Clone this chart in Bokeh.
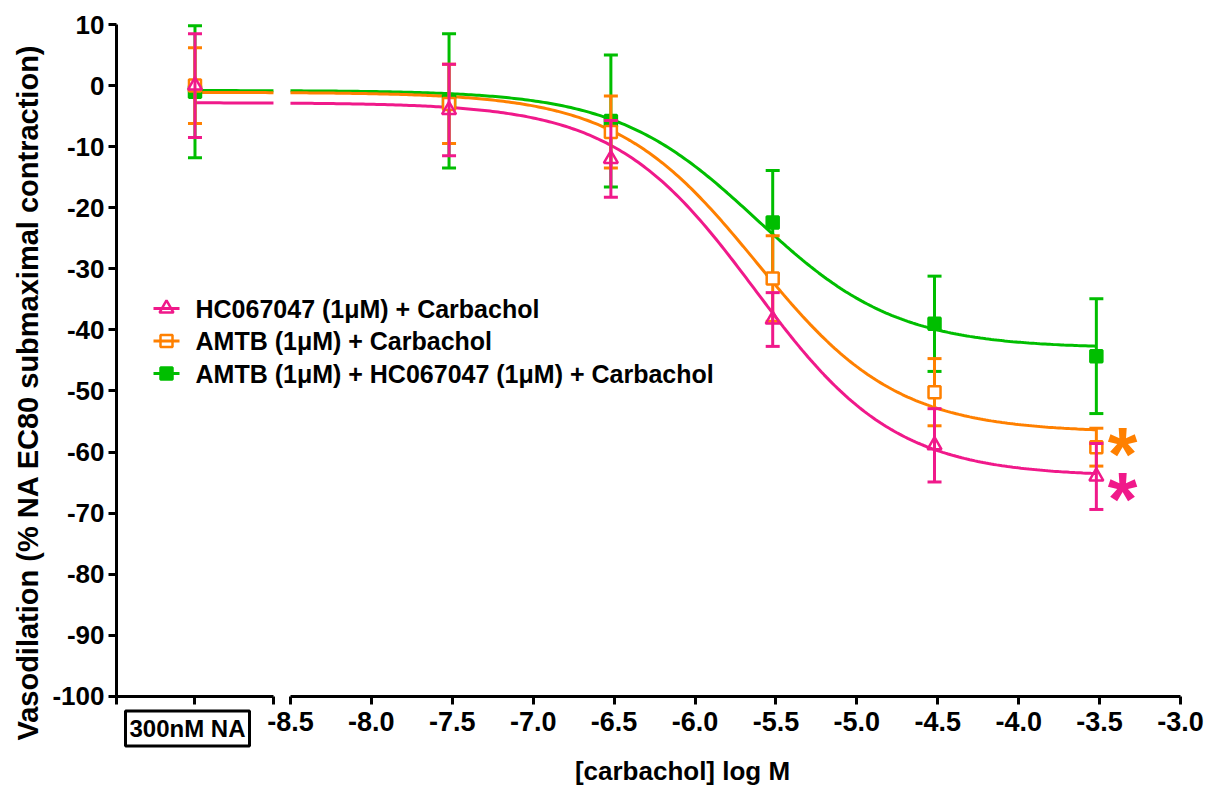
import math
import numpy as np
from bokeh.plotting import figure
from bokeh.models import Range1d, FixedTicker, Label, LinearAxis
from bokeh.core.properties import value
from bokeh.embed import file_html
from bokeh.resources import INLINE

# ---- data ---------------------------------------------------------------
# carbachol concentrations (log M); the first column of every series is the
# 300nM noradrenaline pre-contraction shown on the separate axis segment
log_conc = [-7.52, -6.52, -5.52, -4.52, -3.52]
na_label = "300nM NA"

hc_mean = [0.0, -4.0, -12.0, -38.3, -58.9, -64.0]
hc_sem = [8.5, 7.5, 6.3, 4.4, 6.0, 5.4]

amtb_mean = [0.0, -3.0, -7.6, -31.6, -50.2, -59.2]
amtb_sem = [6.2, 6.5, 5.9, 7.0, 5.5, 3.1]

combo_mean = [-1.0, -2.5, -5.8, -22.4, -39.0, -44.3]
combo_sem = [10.8, 11.0, 10.8, 8.5, 7.8, 9.4]

# four-parameter logistic fits: top, bottom, logEC50, Hill slope
hc_fit = [-2.8, -64.0, -5.63, 1.0]
amtb_fit = [-1.1, -56.8, -5.62, 1.0]
combo_fit = [-0.8, -43.0, -5.62, 1.0]

series_names = [
    "HC067047 (1\u03bcM) + Carbachol",
    "AMTB (1\u03bcM) + Carbachol",
    "AMTB (1\u03bcM) + HC067047 (1\u03bcM) + Carbachol",
]

x_tick_values = [-8.5, -8.0, -7.5, -7.0, -6.5, -6.0, -5.5, -5.0, -4.5, -4.0, -3.5, -3.0]
x_tick_labels = ["-8.5", "-8.0", "-7.5", "-7.0", "-6.5", "-6.0", "-5.5", "-5.0",
                 "-4.5", "-4.0", "-3.5", "-3.0"]
y_tick_values = [10, 0, -10, -20, -30, -40, -50, -60, -70, -80, -90, -100]
y_tick_labels = ["10", "0", "-10", "-20", "-30", "-40", "-50", "-60", "-70",
                 "-80", "-90", "-100"]

# ---- layout of the broken x axis ------------------------------------------
X_START = -9.575       # left end of the NA segment
NA_X = -9.09           # position of the NA column
BREAK_LEFT = -8.605    # end of the NA segment
BREAK_RIGHT = -8.5     # start of the concentration segment
X_END = -3.0
Y_BOTTOM, Y_TOP = -100.0, 10.0

W, H = 1211, 788
AX_L, AX_R, AX_T, AX_B = 116, 1180, 24, 698   # pixel box of the axes
X_PER_PX = (X_END - X_START) / (AX_R - AX_L)
Y_PER_PX = (Y_TOP - (-100.35)) / (AX_B - AX_T)


def px_x(px):
    """Horizontal canvas pixel -> data x."""
    return X_START + (px - AX_L) * X_PER_PX


def px_y(py):
    """Vertical canvas pixel -> data y."""
    return Y_TOP - (py - AX_T) * Y_PER_PX


PINK = "#F0198A"
ORANGE = "#FF8000"
GREEN = "#00BE00"
FONT = "Liberation Sans"


def logistic(x, top, bottom, log_ec50, hill):
    return bottom + (top - bottom) / (1.0 + 10.0 ** ((x - log_ec50) * hill))


# the plotting frame covers the whole canvas; axes sit at fixed data positions
p = figure(width=W, height=H, title=None,
           x_range=Range1d(px_x(0), px_x(W)), y_range=Range1d(px_y(H), px_y(0)),
           x_axis_location=None, y_axis_location=None,
           output_backend="svg", toolbar_location=None, min_border=0)
p.outline_line_color = None
p.background_fill_color = "white"
p.border_fill_color = "white"
for g in p.grid:
    g.visible = False


def style_axis(ax, font_size, standoff):
    ax.axis_line_width = 3
    ax.axis_line_color = "black"
    ax.major_tick_line_width = 3
    ax.major_tick_in = 0
    ax.major_tick_out = 8
    ax.minor_tick_line_color = None
    ax.major_label_text_font = FONT
    ax.major_label_text_font_style = "bold"
    ax.major_label_text_font_size = font_size
    ax.major_label_text_color = "black"
    ax.major_label_standoff = standoff


yax = LinearAxis(fixed_location=X_START, bounds=(Y_BOTTOM, Y_TOP),
                 ticker=FixedTicker(ticks=y_tick_values),
                 major_label_overrides=dict(zip(y_tick_values, y_tick_labels)))
style_axis(yax, "26px", 4)
p.add_layout(yax, "left")

# NA segment of the broken x axis (unlabelled ticks; boxed label below)
na_ticks = [X_START, NA_X, BREAK_LEFT]
xax_na = LinearAxis(fixed_location=Y_BOTTOM, bounds=(X_START, BREAK_LEFT),
                    ticker=FixedTicker(ticks=na_ticks),
                    major_label_overrides={t: "" for t in na_ticks})
style_axis(xax_na, "27px", 8)
p.add_layout(xax_na, "below")

# concentration segment
xax = LinearAxis(fixed_location=Y_BOTTOM, bounds=(BREAK_RIGHT, X_END),
                 ticker=FixedTicker(ticks=x_tick_values),
                 major_label_overrides=dict(zip(x_tick_values, x_tick_labels)))
style_axis(xax, "27px", 8)
p.add_layout(xax, "below")

series = [
    (combo_mean, combo_sem, combo_fit, GREEN, "square", GREEN, 12),
    (amtb_mean, amtb_sem, amtb_fit, ORANGE, "square", "white", 12),
    (hc_mean, hc_sem, hc_fit, PINK, "triangle", None, 14),
]

xs_all = [NA_X] + log_conc

# fitted curves (drawn in two pieces, interrupted at the axis break)
for mean, sem, fit, color, marker, fill, size in series:
    left = np.linspace(NA_X, BREAK_LEFT, 20)
    right = np.linspace(BREAK_RIGHT, log_conc[-1], 300)
    p.line(left, logistic(left, *fit), line_color=color, line_width=3)
    p.line(right, logistic(right, *fit), line_color=color, line_width=3)

# error bars and means
for mean, sem, fit, color, marker, fill, size in series:
    lo = [m - s for m, s in zip(mean, sem)]
    hi = [m + s for m, s in zip(mean, sem)]
    p.segment(x0=xs_all, y0=lo, x1=xs_all, y1=hi, line_color=color, line_width=3)
    p.scatter(xs_all, lo, marker="dash", size=14, line_color=color, line_width=3)
    p.scatter(xs_all, hi, marker="dash", size=14, line_color=color, line_width=3)
    p.scatter(xs_all, mean, marker=marker, size=size, line_color=color,
              line_width=2.5, fill_color=fill, fill_alpha=1.0 if fill else 0.0)

# legend
leg_rows = [308, 340.5, 373]
leg_styles = [(PINK, "triangle", None, 14), (ORANGE, "square", "white", 12),
              (GREEN, "square", GREEN, 12)]
for row, (color, marker, fill, size), name in zip(leg_rows, leg_styles, series_names):
    yy = px_y(row)
    p.scatter([px_x(166)], [yy], marker=marker, size=size, line_color=color,
              line_width=2.5, fill_color=fill, fill_alpha=1.0 if fill else 0.0)
    p.segment(x0=[px_x(153)], y0=[yy], x1=[px_x(179)], y1=[yy],
              line_color=color, line_width=3)
    p.text(x=[px_x(195)], y=[yy], text=[name], text_font=value(FONT),
           text_font_style="bold", text_font_size="25px", text_color="black",
           text_align="left", text_baseline="middle")

# significance marks beside the highest concentration
for color, py in [(ORANGE, 453), (PINK, 498)]:
    p.text(x=[px_x(1122)], y=[px_y(py)], text=["*"], text_font=value(FONT),
           text_font_style="bold", text_font_size="76px", text_color=color,
           text_align="center", text_baseline="alphabetic")

# boxed category label under the NA segment
p.add_layout(Label(x=px_x(187), y=px_y(728), text=na_label,
                   text_font=FONT, text_font_style="bold",
                   text_font_size="24px", text_color="black",
                   text_align="center", text_baseline="middle",
                   border_line_color="black", border_line_width=3,
                   background_fill_color="white", padding=4))

# axis titles
p.add_layout(Label(x=px_x(682), y=px_y(770), text="[carbachol] log M",
                   text_font=FONT, text_font_style="bold",
                   text_font_size="26px", text_color="black",
                   text_align="center", text_baseline="middle"))
p.add_layout(Label(x=px_x(27), y=px_y(392),
                   text="Vasodilation (% NA EC80 submaximal contraction)",
                   text_font=FONT, text_font_style="bold",
                   text_font_size="29px", text_color="black",
                   text_align="center", text_baseline="middle",
                   angle=math.pi / 2))

open("out.html", "w").write(file_html(p, INLINE))
